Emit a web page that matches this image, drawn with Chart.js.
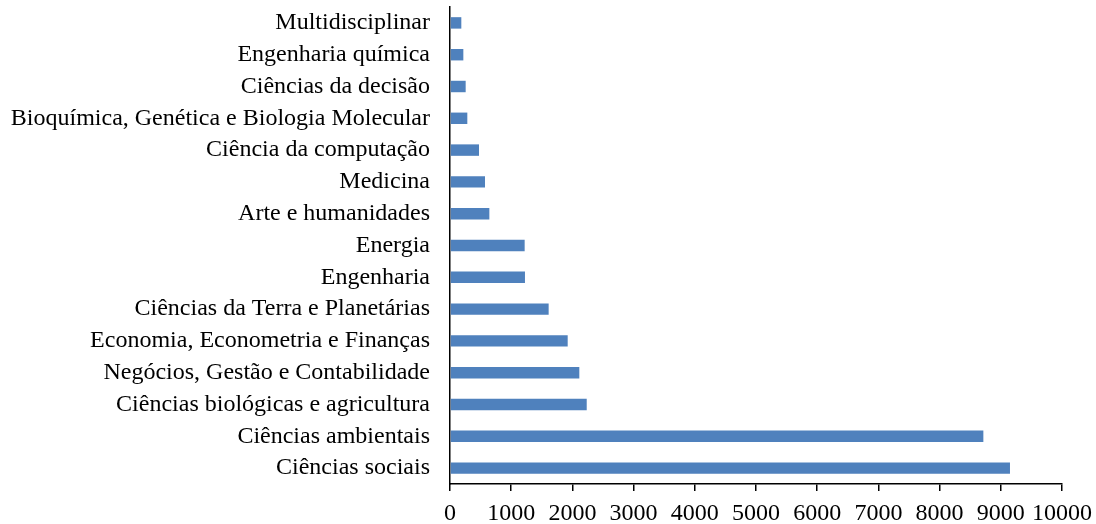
<!DOCTYPE html>
<html lang="pt">
  <head>
    <meta charset="UTF-8" />
    <title>Áreas temáticas</title>
    <script src="https://cdn.jsdelivr.net/npm/chart.js"></script>
    <style>
      body {
        margin: 0;
        background-color: #ffffff;
      }
      #chart {
        display: block;
      }
    </style>
  </head>
  <body>
    <canvas id="chart" width="1096" height="524"></canvas>
    <script>
      // categories, top to bottom
      const categories = [
        "Multidisciplinar",
        "Engenharia química",
        "Ciências da decisão",
        "Bioquímica, Genética e Biologia Molecular",
        "Ciência da computação",
        "Medicina",
        "Arte e humanidades",
        "Energia",
        "Engenharia",
        "Ciências da Terra e Planetárias",
        "Economia, Econometria e Finanças",
        "Negócios, Gestão e Contabilidade",
        "Ciências biológicas e agricultura",
        "Ciências ambientais",
        "Ciências sociais",
      ];
      const documents = [
        185, 218, 256, 283, 474, 572, 643, 1220, 1225, 1612, 1923, 2113, 2234,
        8715, 9150,
      ];
      const xTicks = [0, 1000, 2000, 3000, 4000, 5000, 6000, 7000, 8000, 9000, 10000];

      const font = { family: "'Liberation Serif', 'Times New Roman', serif", size: 24 };

      new Chart(document.getElementById("chart"), {
        type: "bar",
        data: {
          labels: categories,
          datasets: [
            {
              data: documents,
              backgroundColor: "#4F81BD",
              barPercentage: 0.36,
              categoryPercentage: 1,
            },
          ],
        },
        options: {
          indexAxis: "y",
          responsive: false,
          animation: false,
          layout: { padding: { left: 10, right: 34, top: 7, bottom: 0 } },
          plugins: {
            legend: { display: false },
            tooltip: { enabled: false },
          },
          scales: {
            x: {
              min: xTicks[0],
              max: xTicks[xTicks.length - 1],
              afterBuildTicks: (scale) => {
                scale.ticks = xTicks.map((v) => ({ value: v }));
              },
              afterFit: (scale) => {
                scale.height = 40;
                scale.paddingLeft = 0;
                scale.paddingRight = 0;
              },
              grid: {
                drawOnChartArea: false,
                tickLength: 7,
                color: "#000",
                lineWidth: 1.5,
              },
              border: { color: "#000", width: 1.5 },
              ticks: {
                color: "#000",
                font: font,
                padding: 8,
                maxRotation: 0,
                autoSkip: false,
                callback: (v) => String(v),
              },
            },
            y: {
              afterFit: (scale) => {
                scale.width = 440;
                scale.paddingTop = 0;
                scale.paddingBottom = 0;
              },
              grid: { display: false, drawTicks: false },
              border: { color: "#000", width: 1.5 },
              ticks: { color: "#000", font: font, padding: 20, autoSkip: false },
            },
          },
        },
      });
    </script>
  </body>
</html>
